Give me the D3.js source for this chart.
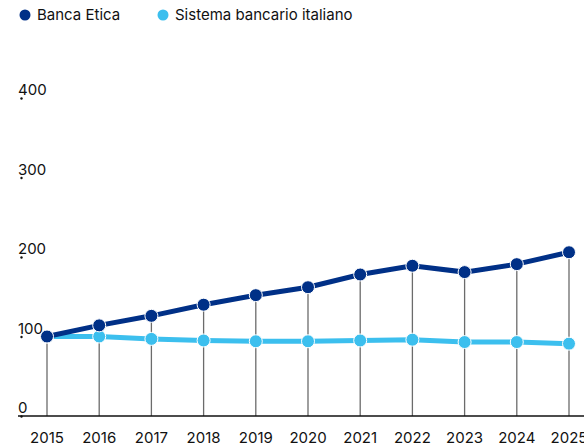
<!DOCTYPE html>
<html>
<head>
  <script src="https://cdnjs.cloudflare.com/ajax/libs/d3/7.8.5/d3.min.js"></script>
  <style>
    body { margin: 0; background: #fff; }
    svg text { font-family: Inter, "Noto Sans", sans-serif; font-size: 15px; fill: #111; }
  </style>
</head>
<body>
  <div id="graph"></div>
  <script>
    // Data (index, 2015 = 100)
    const years = [2015, 2016, 2017, 2018, 2019, 2020, 2021, 2022, 2023, 2024, 2025];
    const bancaEtica = [100, 114, 126, 140, 152, 162, 178, 189, 181, 191, 206];
    const sistemaItaliano = [100, 100, 97, 95, 94, 94, 95, 96, 93, 93, 91];
    const yTicks = [0, 100, 200, 300, 400];
    const seriesNames = ["Banca Etica", "Sistema bancario italiano"];
    const colors = ["#003087", "#3cbfee"];

    const W = 584, H = 446;

    const svg = d3.select("#graph")
      .append("svg")
        .attr("width", W)
        .attr("height", H);

    // Scales
    const x = d3.scalePoint()
      .domain(years)
      .range([47, 569]);

    const y = d3.scaleLinear()
      .domain([0, 400])
      .range([416, 98]);

    // Y axis: label above a small dot
    const yAxis = svg.append("g");
    yTicks.forEach(t => {
      yAxis.append("circle")
        .attr("cx", 21.5)
        .attr("cy", y(t) + 0.5)
        .attr("r", 1.2)
        .attr("fill", "#111");
      yAxis.append("text")
        .attr("x", 18)
        .attr("y", y(t) - 3)
        .text(t);
    });

    // Drop lines from the Banca Etica points to the baseline
    svg.append("g")
      .selectAll("line")
      .data(years)
      .join("line")
        .attr("x1", d => x(d))
        .attr("x2", d => x(d))
        .attr("y1", (d, i) => y(bancaEtica[i]))
        .attr("y2", y(0))
        .attr("stroke", "#6b6b6b")
        .attr("stroke-width", 1.3);

    // Baseline
    svg.append("line")
      .attr("x1", 18)
      .attr("x2", W)
      .attr("y1", y(0))
      .attr("y2", y(0))
      .attr("stroke", "#111")
      .attr("stroke-width", 1.5);

    // X labels
    svg.append("g")
      .selectAll("text")
      .data(years)
      .join("text")
        .attr("x", d => x(d))
        .attr("y", 443)
        .attr("text-anchor", "middle")
        .text(d => d);

    // Lines and markers
    const line = d3.line()
      .x((d, i) => x(years[i]))
      .y(d => y(d));

    [sistemaItaliano, bancaEtica].forEach((vals, k) => {
      const color = k === 0 ? colors[1] : colors[0];
      svg.append("path")
        .datum(vals)
        .attr("fill", "none")
        .attr("stroke", color)
        .attr("stroke-width", 5)
        .attr("d", line);
      svg.append("g")
        .selectAll("circle")
        .data(vals)
        .join("circle")
          .attr("cx", (d, i) => x(years[i]))
          .attr("cy", d => y(d))
          .attr("r", 6.5)
          .attr("fill", color)
          .attr("stroke", "#fff")
          .attr("stroke-width", 1);
    });

    // Legend
    const legendX = [25, 163];
    const legend = svg.append("g");
    seriesNames.forEach((name, i) => {
      legend.append("circle")
        .attr("cx", legendX[i])
        .attr("cy", 15)
        .attr("r", 5.5)
        .attr("fill", colors[i]);
      legend.append("text")
        .attr("x", legendX[i] + 12)
        .attr("y", 20)
        .text(name);
    });
  </script>
</body>
</html>
